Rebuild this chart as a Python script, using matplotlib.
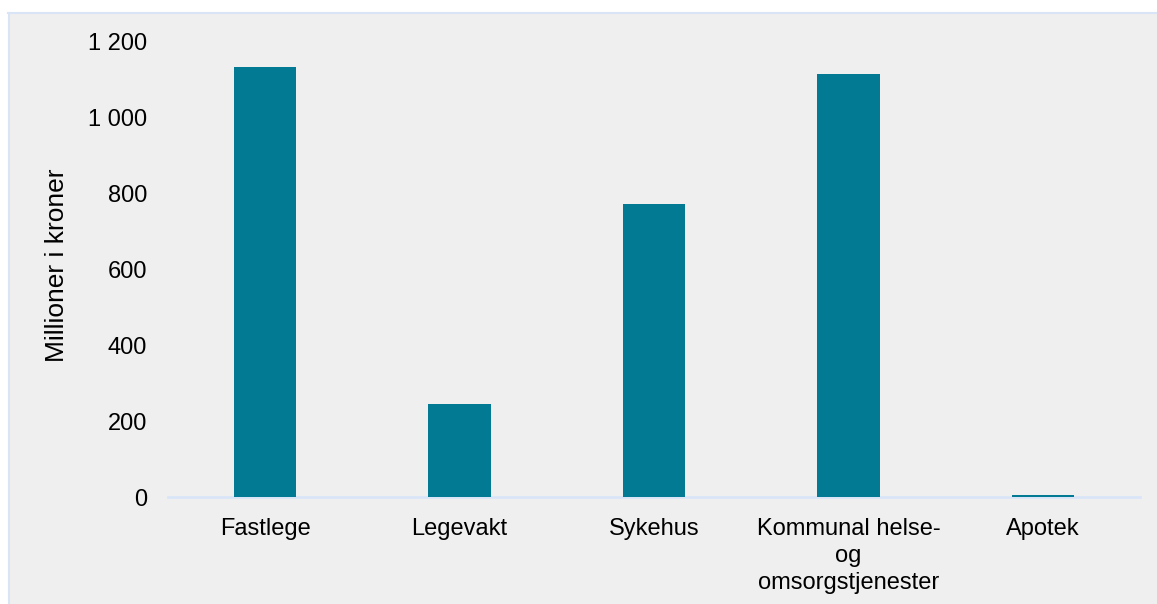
import matplotlib.pyplot as plt
from matplotlib.patches import Rectangle
from matplotlib.lines import Line2D
from matplotlib.ticker import FuncFormatter

plt.rcParams['font.family'] = ['Liberation Sans', 'DejaVu Sans']

categories = ["Fastlege", "Legevakt", "Sykehus",
              "Kommunal helse-\nog\nomsorgstjenester", "Apotek"]
values = [1134, 245, 773, 1116, 4]
yticks = [0, 200, 400, 600, 800, 1000, 1200]

bar_color = "#037a93"
panel_color = "#efefef"
border_color = "#d9e5f7"

fig = plt.figure(figsize=(11.57, 6.04), dpi=100)
fig.patch.set_facecolor("white")

# grey panel with a thin blue border on the left and top, kept behind the axes
fig.patches.append(Rectangle((8 / 1157, 0), 1, 1 - 13 / 604, transform=fig.transFigure,
                             facecolor=panel_color, edgecolor="none", zorder=-2))
fig.lines.append(Line2D([8.5 / 1157, 8.5 / 1157], [0, 1 - 13 / 604], transform=fig.transFigure,
                        color=border_color, lw=1.5, zorder=-1))
fig.lines.append(Line2D([8 / 1157, 1], [1 - 13 / 604, 1 - 13 / 604], transform=fig.transFigure,
                        color=border_color, lw=1.5, zorder=-1))

ax = fig.add_axes([168 / 1157, 1 - 497 / 604, (1140 - 168) / 1157, (497 - 42) / 604])
ax.set_facecolor("none")

x = range(len(categories))
ax.bar(x, values, width=0.32, color=bar_color, zorder=2)

ax.set_xlim(-0.5, len(categories) - 0.5)
ax.set_ylim(0, 1200)
ax.set_yticks(yticks)
ax.yaxis.set_major_formatter(FuncFormatter(lambda v, p: f"{int(v):,}".replace(",", " ")))
ax.set_xticks(list(x))
ax.set_xticklabels(categories, linespacing=1.3)

for side in ["top", "right", "left"]:
    ax.spines[side].set_visible(False)
ax.spines["bottom"].set_color(border_color)
ax.spines["bottom"].set_linewidth(2)
ax.spines["bottom"].set_zorder(1)

ax.tick_params(axis="both", length=0, labelsize=17, colors="black")
ax.tick_params(axis="y", pad=15)
ax.tick_params(axis="x", pad=15)

ax.set_ylabel("Millioner i kroner", fontsize=19)
ax.yaxis.set_label_coords(-0.102, 0.51)

fig.savefig("out.png", dpi=100, facecolor=fig.get_facecolor())
